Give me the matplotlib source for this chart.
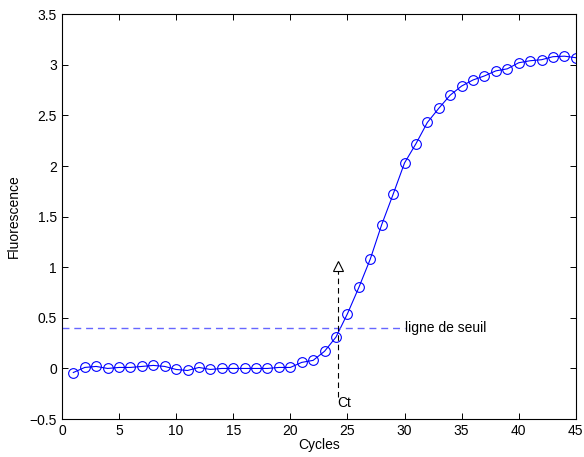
import numpy as np
import matplotlib
matplotlib.use("Agg")
import matplotlib.pyplot as plt

plt.rcParams['font.family'] = ['Liberation Sans', 'DejaVu Sans']
plt.rcParams['font.size'] = 10

# data
cycles = list(range(1, 46))
fluo = [-0.04, 0.01, 0.02, 0.00, 0.01, 0.01, 0.02, 0.03, 0.02, -0.01,
        -0.02, 0.01, -0.01, 0.00, 0.00, 0.00, 0.00, 0.00, 0.01, 0.01,
        0.06, 0.08, 0.17, 0.31, 0.54, 0.80, 1.08, 1.42, 1.72, 2.03,
        2.22, 2.43, 2.57, 2.70, 2.79, 2.85, 2.89, 2.94, 2.96, 3.02,
        3.04, 3.05, 3.08, 3.085, 3.07]
seuil = 0.4
seuil_end = 30
ct = 24.2

fig = plt.figure(figsize=(5.84, 4.57), dpi=100)
ax = fig.add_axes([0.106, 0.083, 0.88, 0.886])

ax.plot(cycles, fluo, '-o', color='blue', lw=0.8, ms=7,
        markerfacecolor='none', markeredgewidth=0.8)

# threshold line
ax.plot([0, seuil_end], [seuil, seuil], '--', color='#6666ff', lw=1.0,
        dashes=(5, 3.5))
ax.text(seuil_end, seuil, 'ligne de seuil', va='center', ha='left')

# Ct marker
ax.plot([ct, ct], [-0.28, 0.98], '--', color='black', lw=0.8, dashes=(5, 3.5))
ax.plot([ct], [1.01], marker='^', ms=7, color='black',
        markerfacecolor='white', markeredgewidth=0.8)
ax.text(ct - 0.05, -0.345, 'Ct', va='center', ha='left')

ax.set_xlim(0, 45)
ax.set_ylim(-0.5, 3.5)
ax.set_xticks(range(0, 46, 5))
ax.set_yticks(np.arange(-0.5, 3.51, 0.5))
ax.set_yticklabels(['\u22120.5', '0', '0.5', '1', '1.5', '2', '2.5', '3', '3.5'])
ax.tick_params(direction='in', top=True, right=True, length=4, width=0.7)
for s in ax.spines.values():
    s.set_linewidth(0.8)
ax.set_xlabel('Cycles', labelpad=0)
ax.set_ylabel('Fluorescence', labelpad=6)

fig.savefig('out.png', dpi=100)
